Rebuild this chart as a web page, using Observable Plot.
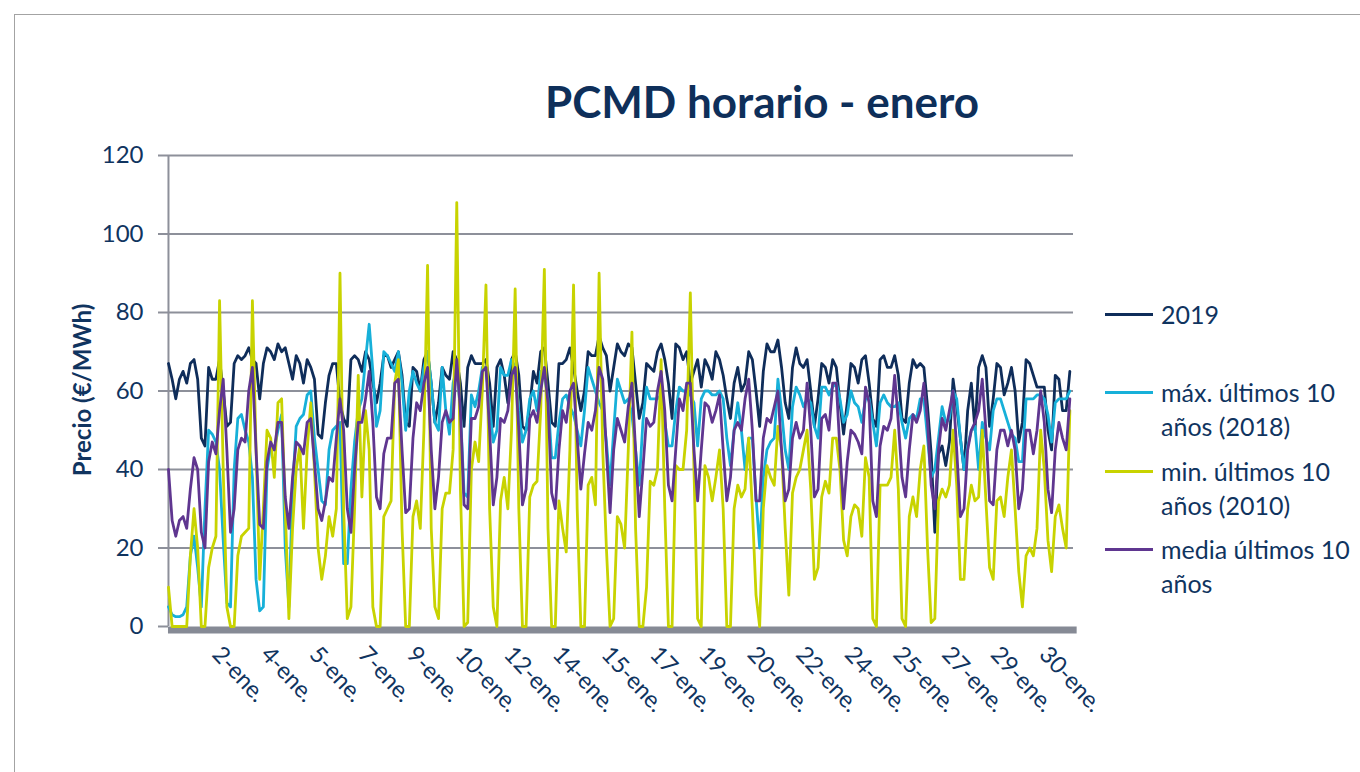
<!DOCTYPE html>
<html><head><meta charset="utf-8">
<script src="https://cdn.jsdelivr.net/npm/d3@7"></script>
<script src="https://cdn.jsdelivr.net/npm/@observablehq/plot@0.6"></script>
<style>
html,body{margin:0;padding:0;background:#fff;overflow:hidden;}
#wrap{position:relative;width:1360px;height:772px;font-family:Lato,"Open Sans",sans-serif;color:#10345f;overflow:hidden;}
#frame{position:absolute;left:14px;top:14px;width:1400px;height:800px;border:1px solid #a3a3a3;box-sizing:border-box;}
#chart{position:absolute;left:0;top:0;}
#title{position:absolute;left:462px;width:600px;top:79px;text-align:center;font-size:44px;line-height:44px;font-weight:700;color:#0e2f5a;}
#ytitle{position:absolute;left:81px;top:390px;transform:translate(-50%,-50%) rotate(-90deg);font-size:24px;font-weight:700;white-space:nowrap;color:#10345f;}
.lg-line{position:absolute;left:1105px;width:48px;height:3px;}
.lg-text{position:absolute;left:1161px;font-size:25px;line-height:34px;color:#10345f;white-space:nowrap;}
</style></head>
<body>
<div id="wrap">
  <div id="frame"></div>
  <div id="chart"></div>
  <div id="title">PCMD horario - enero</div>
  <div id="ytitle">Precio (€/MWh)</div>
  <div id="legend"></div>
</div>
<script>
// hourly samples every 3 hours, January (8 samples per day, 31 days)
const STEP = 3;
const seriesNames = ["2019", "máx. últimos 10 años (2018)", "min. últimos 10 años (2010)", "media últimos 10 años"];
const legendLines = [["2019"], ["máx. últimos 10", "años (2018)"], ["min. últimos 10", "años (2010)"], ["media últimos 10", "años"]];
const seriesColors = ["#0f2d5a", "#17b0d9", "#c8d300", "#5f3690"];

const y2019 = [
  67,63,58,63,65,62,67,68, 63,48,46,66,63,63,68,60, 51,52,67,69,68,69,71,68, 67,58,67,71,70,68,72,70,
  71,67,63,69,67,62,68,66, 63,49,48,57,64,67,67,57, 53,51,68,69,68,65,70,68, 62,57,62,69,69,66,68,70,
  64,52,51,66,65,60,68,70, 62,52,57,66,64,63,70,68, 62,51,66,69,67,67,67,68, 62,51,66,68,64,57,68,70,
  64,51,50,56,65,62,70,71, 62,52,51,67,67,68,71,66, 60,55,60,70,69,69,74,71, 69,60,66,72,70,69,72,71,
  62,53,57,67,66,65,70,72, 68,62,53,72,71,68,70,62, 65,68,61,68,66,63,70,68, 64,58,53,62,66,60,62,70,
  68,60,51,65,72,70,70,73, 66,57,53,66,71,67,66,68, 60,51,58,67,66,62,68,66, 57,49,57,67,66,62,68,69,
  62,53,51,68,69,66,66,69, 64,53,52,62,68,66,67,66, 56,44,24,44,46,41,47,63, 56,48,40,55,62,50,66,69,
  66,51,58,67,66,59,62,66, 60,47,52,68,67,64,61,61, 61,50,45,64,63,55,55,65
];
const yMax2018 = [
  5,3,2.5,2.5,3,5,18,23, 15,5,30,50,49,47,40,22, 6,5,40,53,54,50,47,38, 12,4,5,40,46,45,50,54,
  20,5,35,51,53,54,59,60, 48,40,32,31,45,50,51,52, 16,16,35,47,55,58,68,77, 65,51,55,70,69,67,65,70,
  62,50,60,65,62,60,66,70, 62,52,50,66,55,49,62,66, 55,34,33,59,56,60,66,66, 56,47,50,66,64,64,68,66,
  55,47,50,58,60,55,65,64, 58,43,43,52,58,59,56,54, 50,46,55,66,63,60,57,55, 47,36,50,63,60,57,58,54,
  45,36,52,61,58,58,58,59, 52,46,46,55,61,60,60,59, 57,46,58,60,60,59,59,60, 58,48,41,50,57,50,40,48,
  48,33,20,38,45,47,48,63, 55,45,40,56,61,59,56,58, 57,51,48,61,61,59,61,62, 58,52,54,60,57,56,52,58,
  58,52,46,57,59,57,56,56, 57,52,48,53,54,53,58,58, 48,38,40,48,56,52,53,60, 58,48,40,46,50,51,40,52,
  48,45,55,58,58,55,52,49, 48,42,42,58,58,58,59,59, 58,54,47,57,58,58,58,60
];
const yMin2010 = [
  10,0,0,0,0,0,18,30, 20,0,0,15,20,23,83,40, 5,0,0,18,23,24,25,83, 45,12,30,50,48,38,57,58,
  30,2,25,40,46,25,45,57, 40,20,12,18,28,23,30,90, 30,2,5,30,64,33,55,45, 5,0,0,28,30,32,62,68,
  25,0,0,28,32,25,50,92, 25,5,2,30,34,34,45,108, 35,0,1,40,47,42,60,87, 30,5,0,32,38,30,50,86,
  30,0,0,33,36,37,55,91, 25,0,0,32,25,19,45,87, 30,0,0,36,38,31,90,45, 20,0,2,28,26,20,45,75,
  25,0,0,10,37,36,40,68, 30,0,0,41,40,40,50,85, 40,2,0,41,38,32,38,45, 30,0,0,30,36,33,35,48,
  30,8,0,30,41,38,36,51, 45,25,8,34,38,40,45,50, 35,12,15,33,37,34,48,48, 40,22,18,28,31,30,23,43,
  38,2,0,36,36,36,38,50, 35,2,0,28,33,28,40,46, 20,1,2,32,35,33,36,50, 36,12,12,30,36,32,33,50,
  32,15,12,32,33,28,38,45, 30,14,5,18,20,18,25,50, 40,22,14,28,31,25,20,55
];
const yMedia = [
  40,27,23,27,28,25,35,43, 40,24,20,42,47,44,55,63, 45,24,30,45,48,47,60,66, 45,26,25,42,47,45,52,52,
  33,25,38,47,46,44,52,53, 42,30,27,32,38,37,48,58, 50,30,24,40,52,52,58,65, 52,33,30,44,48,48,62,63,
  45,29,30,48,57,55,62,66, 45,30,38,52,55,52,53,68, 55,31,30,53,53,56,65,66, 50,31,38,53,52,55,64,66,
  50,31,35,53,55,52,60,66, 57,34,30,45,55,52,60,62, 48,35,44,52,50,55,66,63, 45,29,45,53,50,47,56,62,
  45,28,40,53,51,52,60,65, 55,36,32,45,58,55,62,62, 45,32,45,57,56,52,55,59, 45,32,38,50,52,50,58,63,
  50,32,32,48,53,52,56,60, 45,32,35,48,52,48,50,62, 50,33,35,53,54,50,62,62, 45,30,42,50,49,47,44,61,
  57,32,28,46,51,50,53,64, 52,38,33,45,54,52,55,62, 52,36,30,45,53,50,55,60, 45,28,30,45,50,52,55,63,
  50,32,31,45,50,50,46,50, 45,30,35,50,50,44,50,60, 52,35,29,45,52,48,45,58
];

const yTicks = [0, 20, 40, 60, 80, 100, 120];
const xTickHours = [39, 79, 119, 159, 199, 239, 279, 319, 359, 399, 439, 479, 519, 559, 599, 639, 679, 719];
const xTickLabels = ["2-ene.", "4-ene.", "5-ene.", "7-ene.", "9-ene.", "10-ene.", "12-ene.", "14-ene.", "15-ene.",
  "17-ene.", "19-ene.", "20-ene.", "22-ene.", "24-ene.", "25-ene.", "27-ene.", "29-ene.", "30-ene."];

const allSeries = [y2019, yMax2018, yMin2010, yMedia];
const rows = allSeries.flatMap((vals, si) => vals.map((v, i) => ({hour: i * STEP, value: v, series: seriesNames[si]})));

const navy = "#10345f";
const gridColor = "#8d909a";

const chart = Plot.plot({
  width: 1360,
  height: 772,
  marginLeft: 158,
  marginRight: 287,
  marginTop: 155,
  marginBottom: 146,
  x: {domain: [-8.2, 744], axis: null},
  y: {domain: [0, 120], axis: null},
  color: {domain: seriesNames, range: seriesColors},
  style: {fontFamily: "Lato, 'Open Sans', sans-serif", background: "transparent"},
  marks: [
    Plot.ruleY(yTicks.slice(1), {stroke: gridColor, strokeWidth: 2}),
    Plot.ruleX([0], {y1: 0, y2: 120, stroke: gridColor, strokeWidth: 2}),
    Plot.ruleY([0], {x1: -8.2, x2: 0, stroke: gridColor, strokeWidth: 2}),
    Plot.ruleY([0], {x1: 0, x2: 747, stroke: "#868a95", strokeWidth: 7, dy: 3.5}),
    Plot.text(yTicks, {y: d => d, frameAnchor: "left", text: d => String(d), textAnchor: "end", dx: -15, fontSize: 24, fill: navy}),
    Plot.text(xTickHours, {x: d => d, frameAnchor: "bottom", text: (d, i) => xTickLabels[i], rotate: 47, textAnchor: "start", dy: 29, dx: -5, fontSize: 23.5, fill: navy}),
    Plot.line(rows, {x: "hour", y: "value", z: "series", stroke: "series", strokeWidth: 2.8, strokeLinejoin: "round", curve: "linear"})
  ]
});
document.getElementById("chart").appendChild(chart);

// legend
const legendTop = [314, 392, 471, 549];
const lg = document.getElementById("legend");
seriesNames.forEach((name, i) => {
  const line = document.createElement("div");
  line.className = "lg-line";
  line.style.top = (legendTop[i] - 1.5) + "px";
  line.style.background = seriesColors[i];
  lg.appendChild(line);
  const txt = document.createElement("div");
  txt.className = "lg-text";
  txt.style.top = (legendTop[i] - 17) + "px";
  txt.innerHTML = legendLines[i].join("<br>");
  lg.appendChild(txt);
});
</script>
</body></html>
